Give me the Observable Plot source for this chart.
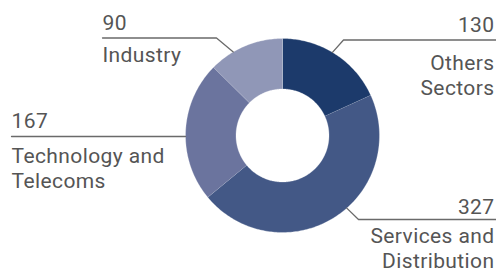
<!DOCTYPE html>
<html>
<head>
<meta charset="utf-8">
<script src="https://cdn.jsdelivr.net/npm/d3@7"></script>
<script src="https://cdn.jsdelivr.net/npm/@observablehq/plot@0.6"></script>
<style>
  html, body { margin: 0; padding: 0; background: #ffffff; }
  #chart svg { display: block; }
</style>
</head>
<body>
<div id="chart"></div>
<script>
// ---- data ----
const sectors = ["Others Sectors", "Services and Distribution", "Technology and Telecoms", "Industry"];
const sectorLabels = ["Others\nSectors", "Services and\nDistribution", "Technology and\nTelecoms", "Industry"];
const values = [130, 327, 167, 90];

// ---- style ----
const colors = ["#1c3a6b", "#435886", "#6b749e", "#9097b7"];
const textColor = "#555555";
const lineColor = "#6a6a6a";
const W = 496, H = 271;
const cx = 282, cy = 135, R = 97, r0 = 46.5;
const fontSize = 21;

// label layout (annotation placement)
const labelLayout = [
  {angle: 31,    elbowX: 343, lineY: 39.5, endX: 496, textX: 494, anchor: "end",   valueY: 31,    nameY: 94.5},
  {angle: 138.5, elbowX: 358, lineY: 219,  endX: 496, textX: 494, anchor: "end",   valueY: 213.5, nameY: 267.5},
  {angle: 269.4, elbowX: null, lineY: 136, endX: 11,  textX: 11,  anchor: "start", valueY: 127,   nameY: 187.5},
  {angle: 329.5, elbowX: 216, lineY: 37.5, endX: 102, textX: 102, anchor: "start", valueY: 29,    nameY: 61.5}
];

const rows = sectors.map((s, i) => ({sector: s, label: sectorLabels[i], value: values[i], color: colors[i]}));
const arcs = d3.pie().sort(null).value(d => d.value).startAngle(0).endAngle(2 * Math.PI)(rows);

// ring polygons sampled along the arcs
const ring = [];
for (const a of arcs) {
  const n = Math.max(8, Math.ceil((a.endAngle - a.startAngle) * 60));
  for (let k = 0; k <= n; k++) {
    const t = a.startAngle + (a.endAngle - a.startAngle) * k / n;
    ring.push({sector: a.data.sector, x: cx + R * Math.sin(t), y: cy - R * Math.cos(t)});
  }
  for (let k = n; k >= 0; k--) {
    const t = a.startAngle + (a.endAngle - a.startAngle) * k / n;
    ring.push({sector: a.data.sector, x: cx + r0 * Math.sin(t), y: cy - r0 * Math.cos(t)});
  }
}

// leader lines
const leaders = [];
labelLayout.forEach((L, i) => {
  const t = L.angle * Math.PI / 180;
  const sx = cx + R * Math.sin(t), sy = cy - R * Math.cos(t);
  leaders.push({sector: sectors[i], x: sx, y: sy});
  if (L.elbowX != null) leaders.push({sector: sectors[i], x: L.elbowX, y: L.lineY});
  leaders.push({sector: sectors[i], x: L.endX, y: L.lineY});
});

const valueText = rows.map((d, i) => ({text: String(d.value), x: labelLayout[i].textX, y: labelLayout[i].valueY, anchor: labelLayout[i].anchor}));
const nameText = rows.map((d, i) => ({text: d.label, x: labelLayout[i].textX, y: labelLayout[i].nameY, anchor: labelLayout[i].anchor}));

const font = "Roboto, 'DejaVu Sans', sans-serif";
const textOpts = {x: "x", y: "y", text: "text", lineAnchor: "bottom", lineHeight: 1.2, fontSize, fontWeight: 400, fill: textColor};

const plot = Plot.plot({
  width: W,
  height: H,
  margin: 0,
  style: {background: "#ffffff", fontFamily: font, letterSpacing: "0.4px"},
  x: {domain: [0, W], range: [0, W], axis: null},
  y: {domain: [0, H], range: [0, H], axis: null},
  color: {domain: sectors, range: colors},
  marks: [
    Plot.line(ring, {x: "x", y: "y", z: "sector", fill: "sector", stroke: "#ffffff", strokeWidth: 0.6, strokeOpacity: 0.45, curve: "linear"}),
    Plot.line(leaders, {x: "x", y: "y", z: "sector", stroke: lineColor, strokeWidth: 1.3}),
    Plot.text(valueText.filter(d => d.anchor === "start"), {...textOpts, textAnchor: "start"}),
    Plot.text(valueText.filter(d => d.anchor === "end"), {...textOpts, textAnchor: "end"}),
    Plot.text(nameText.filter(d => d.anchor === "start"), {...textOpts, textAnchor: "start"}),
    Plot.text(nameText.filter(d => d.anchor === "end"), {...textOpts, textAnchor: "end"})
  ]
});
document.getElementById("chart").appendChild(plot);
</script>
</body>
</html>
